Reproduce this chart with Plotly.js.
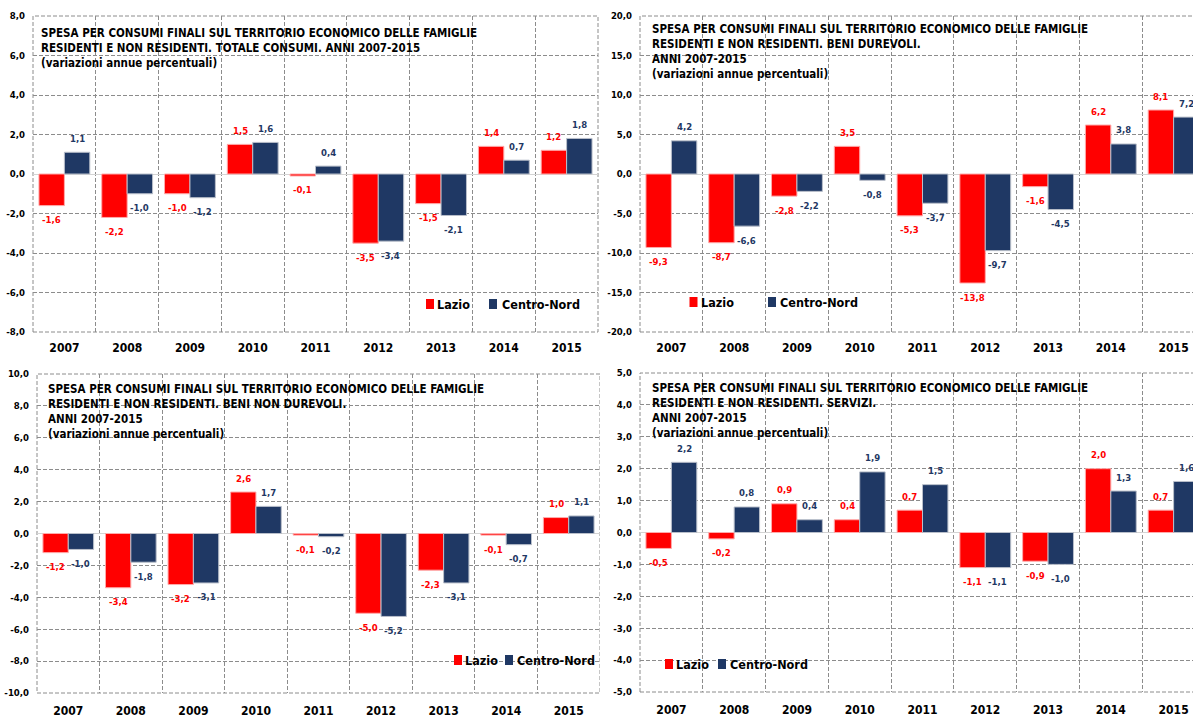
<!DOCTYPE html>
<html><head><meta charset="utf-8">
<script src="https://cdn.plot.ly/plotly-3.0.1.min.js"></script>
<style>
html,body{margin:0;padding:0;overflow:hidden;background:#fff;width:1193px;height:718px;position:relative;}
.pane{position:absolute;overflow:hidden;}
</style></head><body>
<div id="p1" class="pane" style="left:0px;top:0px;width:600px;height:358px"></div>
<div id="p2" class="pane" style="left:600px;top:0px;width:605px;height:358px"></div>
<div id="p3" class="pane" style="left:0px;top:358px;width:600px;height:360px"></div>
<div id="p4" class="pane" style="left:600px;top:358px;width:605px;height:360px"></div>
<script>
// ---------- DATA ----------
const years = ['2007','2008','2009','2010','2011','2012','2013','2014','2015'];
const seriesNames = ['Lazio','Centro-Nord'];

const totaleLazio  = [-1.6,-2.2,-1.0, 1.5,-0.1,-3.5,-1.5, 1.4, 1.2];
const totaleCN     = [ 1.1,-1.0,-1.2, 1.6, 0.4,-3.4,-2.1, 0.7, 1.8];
const durevoliLazio = [-9.3,-8.7,-2.8, 3.5,-5.3,-13.8,-1.6, 6.2, 8.1];
const durevoliCN    = [ 4.2,-6.6,-2.2,-0.8,-3.7,-9.7,-4.5, 3.8, 7.2];
const nonDurLazio  = [-1.2,-3.4,-3.2, 2.6,-0.1,-5.0,-2.3,-0.1, 1.0];
const nonDurCN     = [-1.0,-1.8,-3.1, 1.7,-0.2,-5.2,-3.1,-0.7, 1.1];
const serviziLazio = [-0.5,-0.2, 0.9, 0.4, 0.7,-1.1,-0.9, 2.0, 0.7];
const serviziCN    = [ 2.2, 0.8, 0.4, 1.9, 1.5,-1.1,-1.0, 1.3, 1.6];

const ticksTotale  = [-8,-6,-4,-2,0,2,4,6,8];
const ticksDurevoli = [-20,-15,-10,-5,0,5,10,15,20];
const ticksNonDur  = [-10,-8,-6,-4,-2,0,2,4,6,8,10];
const ticksServizi = [-5,-4,-3,-2,-1,0,1,2,3,4,5];

const titleLine1 = 'SPESA PER CONSUMI FINALI SUL TERRITORIO ECONOMICO DELLE FAMIGLIE';
const titleSub = '(variazioni annue percentuali)';
const titleTotale  = [titleLine1, 'RESIDENTI E NON RESIDENTI. TOTALE CONSUMI. ANNI 2007-2015', titleSub];
const titleDurevoli = [titleLine1, 'RESIDENTI E NON RESIDENTI. BENI DUREVOLI.', 'ANNI 2007-2015', titleSub];
const titleNonDur  = [titleLine1, 'RESIDENTI E NON RESIDENTI. BENI NON DUREVOLI.', 'ANNI 2007-2015', titleSub];
const titleServizi = [titleLine1, 'RESIDENTI E NON RESIDENTI. SERVIZI.', 'ANNI 2007-2015', titleSub];

// ---------- STYLE ----------
const FONT = "'Liberation Sans Narrow','Arial Narrow','DejaVu Sans Condensed','Roboto Condensed',sans-serif";
const RED = '#FF0000', NAVY = '#1F3864';
const GRID = '#8c8c8c', DASH = '4px,2px';
const fmt = v => v.toFixed(1).replace('.', ',');

function panel(id, c) {
  const m = c.m, pw = c.w - m.l - m.r, ph = c.h - m.t - m.b;
  const px = x => (x - m.l) / pw;
  const py = y => 1 - (y - m.t) / ph;
  const bargap = 0.19, off = (1 - bargap) / 4;
  const colors = [RED, NAVY];
  const lines = ['rgba(255,170,170,1)', '#b9bfca'];
  const data = [c.a, c.b].map((arr, k) => ({
    type: 'bar', name: seriesNames[k], x: years, y: arr,
    marker: {color: colors[k], line: {color: lines[k], width: 1}},
    hoverinfo: 'skip', showlegend: false
  }));
  const ann = [];
  [c.a, c.b].forEach((arr, k) => arr.forEach((v, i) => ann.push({
    x: i + (k ? off : -off), y: v, xref: 'x', yref: 'y', text: fmt(v), showarrow: false,
    yshift: v >= 0 ? 14 : -14,
    font: {family: FONT, size: 9.5, weight: 'bold', color: colors[k]}
  })));
  // title
  ann.push({
    xref: 'paper', yref: 'paper', x: px(c.title.x), y: py(c.title.y - 8.5),
    xanchor: 'left', yanchor: 'top', align: 'left', showarrow: false,
    text: c.titleLines.join('<br>'),
    font: {family: FONT, size: 11.5, weight: 'bold', color: '#000'}
  });
  const shapes = [
    {type: 'rect', xref: 'paper', yref: 'paper', layer: 'between',
     x0: px(c.tbox[0]), x1: px(c.tbox[1]), y0: py(c.tbox[3]), y1: py(c.tbox[2]),
     fillcolor: '#fff', line: {width: 0}},
    {type: 'rect', xref: 'paper', yref: 'paper', layer: 'between',
     x0: px(c.lbox[0]), x1: px(c.lbox[1]), y0: py(c.lbox[3]), y1: py(c.lbox[2]),
     fillcolor: '#fff', line: {width: 0}},
    {type: 'rect', xref: 'paper', yref: 'paper', layer: 'between',
     x0: 0, x1: 1, y0: 0, y1: 1, fillcolor: 'rgba(0,0,0,0)',
     line: {color: GRID, width: 1, dash: DASH}}
  ];
  // legend (squares + text)
  c.leg.forEach((it, k) => {
    shapes.push({type: 'rect', xref: 'paper', yref: 'paper', layer: 'above',
      x0: px(it.sx - 4), x1: px(it.sx + 4), y0: py(it.y + 5), y1: py(it.y - 5),
      fillcolor: colors[k], line: {width: 0}});
    ann.push({xref: 'paper', yref: 'paper', x: px(it.tx), y: py(it.y), xanchor: 'left', yanchor: 'middle',
      showarrow: false, text: seriesNames[k],
      font: {family: FONT, size: 12.5, weight: 'bold', color: '#000'}});
  });
  const layout = {
    width: c.w, height: c.h, margin: {l: m.l, r: m.r, t: m.t, b: m.b, pad: 0},
    paper_bgcolor: '#fff', plot_bgcolor: '#fff',
    separators: ',.',
    barmode: 'group', bargap: bargap, bargroupgap: 0,
    showlegend: false, hovermode: false,
    xaxis: {type: 'category', tickson: 'boundaries', showgrid: true, gridcolor: GRID, griddash: DASH, gridwidth: 1,
      ticks: '', showline: false, zeroline: false, automargin: false, ticklabelstandoff: c.xstand,
      tickfont: {family: FONT, size: 12, weight: 'bold', color: '#000'}},
    yaxis: {range: [c.ticks[0], c.ticks[c.ticks.length - 1]], tickvals: c.ticks, ticktext: c.ticks.map(fmt),
      showgrid: true, gridcolor: GRID, griddash: DASH, gridwidth: 1,
      zeroline: true, zerolinecolor: '#d4d4d4', zerolinewidth: 1,
      ticks: '', showline: false, automargin: false, ticklabelstandoff: 7,
      tickfont: {family: FONT, size: 9.5, weight: 'bold', color: '#000'}},
    annotations: ann, shapes: shapes
  };
  Plotly.newPlot(id, data, layout, {staticPlot: true, displayModeBar: false});
}

panel('p1', {w: 600, h: 358, m: {l: 33, r: 2, t: 16, b: 26}, a: totaleLazio, b: totaleCN, ticks: ticksTotale,
  titleLines: titleTotale, title: {x: 39, y: 32}, tbox: [35, 472, 17, 72], lbox: [395, 598, 279, 331],
  leg: [{sx: 430, tx: 435, y: 304}, {sx: 493, tx: 500, y: 304}], xstand: 7});
panel('p2', {w: 605, h: 358, m: {l: 40, r: 0, t: 16, b: 26}, a: durevoliLazio, b: durevoliCN, ticks: ticksDurevoli,
  titleLines: titleDurevoli, title: {x: 50, y: 28}, tbox: [42, 490, 17, 85], lbox: [50, 280, 275, 331],
  leg: [{sx: 93.5, tx: 99, y: 302}, {sx: 172, tx: 178, y: 302}], xstand: 7});
panel('p3', {w: 600, h: 360, m: {l: 37, r: 0, t: 16, b: 25}, a: nonDurLazio, b: nonDurCN, ticks: ticksNonDur,
  titleLines: titleNonDur, title: {x: 46, y: 30}, tbox: [39, 479, 17, 87], lbox: [448, 600, 274, 335],
  leg: [{sx: 458, tx: 463, y: 302}, {sx: 509, tx: 515, y: 302}], xstand: 9});
panel('p4', {w: 605, h: 360, m: {l: 40, r: 0, t: 15, b: 26}, a: serviziLazio, b: serviziCN, ticks: ticksServizi,
  titleLines: titleServizi, title: {x: 50, y: 29}, tbox: [42, 492, 16, 87], lbox: [48, 201, 284, 334],
  leg: [{sx: 69, tx: 74, y: 306}, {sx: 122, tx: 128, y: 306}], xstand: 9});
</script>
</body></html>
